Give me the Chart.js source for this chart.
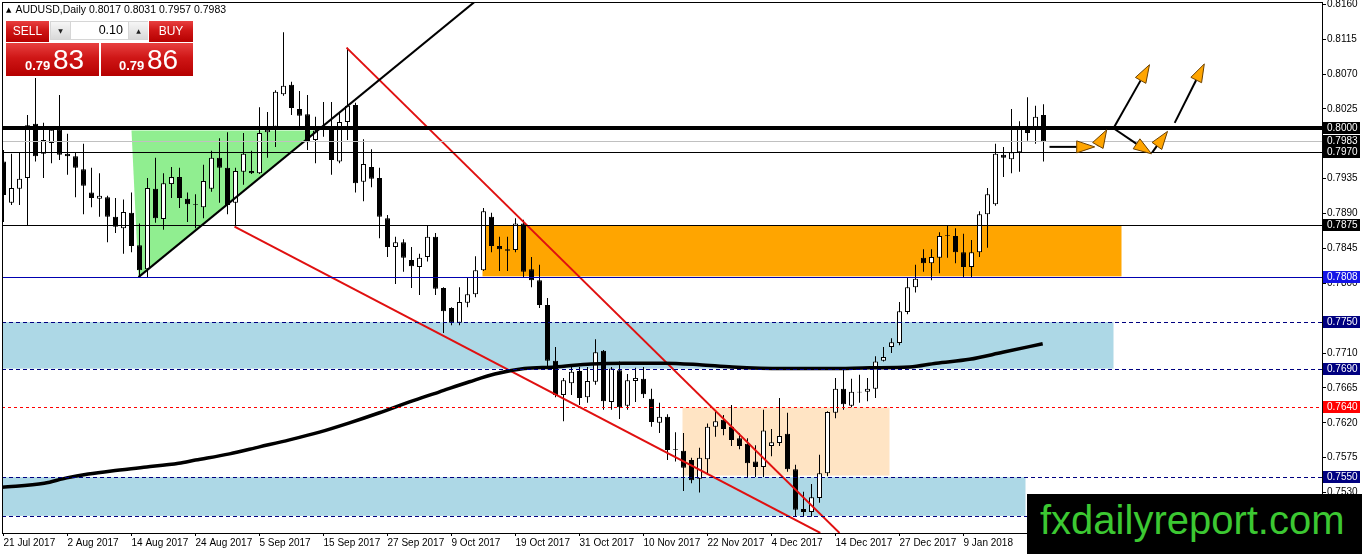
<!DOCTYPE html>
<html>
<head>
<meta charset="utf-8">
<title>AUDUSD Daily</title>
<script src="https://cdn.jsdelivr.net/npm/chart.js@4.4.1/dist/chart.umd.min.js"></script>
<style>
html,body{margin:0;padding:0;background:#fff;overflow:hidden;}
#wrap{position:relative;width:1362px;height:554px;font-family:"Liberation Sans",Arial,sans-serif;}
#c{position:absolute;left:0;top:0;}
.abs{position:absolute;white-space:nowrap;}
#hdr{left:6px;top:3px;font-size:10.5px;line-height:13px;color:#000;}
#hdr .tri{font-family:"DejaVu Sans";font-size:7px;position:relative;top:-1px;margin-right:4px;}
.red{background:linear-gradient(#e84040 0%,#cf1616 45%,#b50000 100%);color:#fff;}
#sell,#buy{top:21px;height:21px;font-size:12px;line-height:21px;text-align:center;}
#sell{left:6px;width:43px;}
#buy{left:149px;width:44px;}
#lot{left:50px;top:21px;width:98px;height:19px;background:#d6d6d6;}
.btn{top:22px;width:19px;height:17px;background:linear-gradient(#f6f6f6,#d9d9d9);font-family:"DejaVu Sans";font-size:6px;line-height:17px;text-align:center;color:#222;}
#dn{left:51px;}
#up{left:129px;}
#field{left:71px;top:22px;width:57px;height:17px;background:#fff;font-size:12.5px;line-height:17px;text-align:right;padding-right:5px;box-sizing:border-box;color:#000;}
#sp{left:6px;top:43px;width:93px;height:33px;}
#bp{left:101px;top:43px;width:92px;height:33px;}
.small{font-size:13px;line-height:13px;font-weight:bold;top:16px;}
.big{font-size:28px;line-height:28px;top:3px;}
#wm{left:1027px;top:494px;width:335px;height:60px;background:#000;}
#wm span{position:absolute;left:13px;top:6px;font-size:40px;line-height:40px;color:#3cc832;white-space:nowrap;}
</style>
</head>
<body>
<div id="wrap">
<canvas id="c" width="1362" height="554"></canvas>
<div id="hdr" class="abs"><span class="tri">▲</span><span id="hdrText"></span></div>
<div id="sell" class="abs red">SELL</div>
<div id="lot" class="abs"></div>
<div id="dn" class="abs btn">▼</div>
<div id="field" class="abs">0.10</div>
<div id="up" class="abs btn">▲</div>
<div id="buy" class="abs red">BUY</div>
<div id="sp" class="abs red"><span class="abs small" style="left:19px">0.79</span><span class="abs big" style="left:47px">83</span></div>
<div id="bp" class="abs red"><span class="abs small" style="left:18px">0.79</span><span class="abs big" style="left:46px">86</span></div>
<div id="wm" class="abs"><span>fxdailyreport.com</span></div>
</div>
<script>
// ---------------- data ----------------
const symbolName = "AUDUSD,Daily";

const opens = [0.7957,0.7904,0.7922,0.7936,0.8006,0.7967,0.7981,0.7998,0.7967,0.7964,
0.7947,0.7917,0.7909,0.7911,0.7886,0.7871,0.7891,0.7849,0.7818,0.7922,
0.7883,0.7928,0.7937,0.7909,0.7901,0.7898,0.7922,0.7962,0.7949,0.7904,
0.7944,0.7945,0.7942,0.7995,0.8002,0.8044,0.8056,0.8025,0.8018,0.7985,
0.7998,0.8002,0.7957,0.8008,0.8030,0.7931,0.7950,0.7936,0.7884,0.7847,
0.7853,0.7830,0.7821,0.7834,0.7860,0.7794,0.7768,0.7749,0.7775,0.7786,
0.7817,0.7886,0.7848,0.7844,0.7843,0.7877,0.7818,0.7804,0.7772,0.7700,
0.7656,0.7671,0.7687,0.7653,0.7673,0.7713,0.7647,0.7688,0.7642,0.7674,
0.7677,0.7651,0.7620,0.7628,0.7585,0.7584,0.7572,0.7548,0.7573,0.7615,
0.7624,0.7615,0.7600,0.7593,0.7570,0.7563,0.7590,0.7594,0.7606,0.7560,
0.7509,0.7505,0.7523,0.7555,0.7633,0.7664,0.7642,0.7659,0.7660,0.7664,
0.7700,0.7718,0.7723,0.7763,0.7795,0.7833,0.7826,0.7833,0.7861,0.7861,
0.7840,0.7821,0.7840,0.7889,0.7902,0.7966,0.7960,0.7969,0.7999,0.7999,
0.8017];
const highs = [0.7972,0.7967,0.7969,0.8017,0.8065,0.8007,0.8002,0.8043,0.7993,0.7968,
0.7980,0.7949,0.7942,0.7913,0.7910,0.7908,0.7917,0.7877,0.7936,0.7962,
0.7942,0.7950,0.7949,0.7917,0.7915,0.7953,0.7971,0.7987,0.7995,0.7949,
0.7994,0.7971,0.8027,0.8021,0.8049,0.8124,0.8060,0.8048,0.8043,0.8015,
0.8034,0.8034,0.8021,0.8104,0.8033,0.7986,0.7973,0.7949,0.7888,0.7860,
0.7857,0.7847,0.7838,0.7874,0.7865,0.7795,0.7769,0.7795,0.7808,0.7835,
0.7897,0.7891,0.7860,0.7860,0.7884,0.7882,0.7834,0.7824,0.7781,0.7718,
0.7678,0.7692,0.7692,0.7692,0.7728,0.7714,0.7692,0.7699,0.7683,0.7691,
0.7692,0.7664,0.7646,0.7631,0.7608,0.7607,0.7575,0.7588,0.7619,0.7634,
0.7630,0.7643,0.7607,0.7600,0.7591,0.7637,0.7612,0.7652,0.7633,0.7566,
0.7531,0.7541,0.7579,0.7635,0.7678,0.7692,0.7677,0.7682,0.7678,0.7706,
0.7718,0.7729,0.7776,0.7807,0.7824,0.7844,0.7844,0.7866,0.7874,0.7871,
0.7864,0.7856,0.7893,0.7923,0.7980,0.7976,0.8025,0.8009,0.8040,0.8029,
0.8031];
const lows = [0.7879,0.7901,0.7901,0.7875,0.7957,0.7936,0.7955,0.7959,0.7940,0.7911,
0.7889,0.7898,0.7886,0.7853,0.7865,0.7838,0.7840,0.7808,0.7807,0.7878,
0.7869,0.7910,0.7897,0.7879,0.7871,0.7884,0.7918,0.7904,0.7889,0.7873,
0.7927,0.7941,0.7941,0.7962,0.7976,0.8042,0.8017,0.8000,0.7972,0.7955,
0.7989,0.7940,0.7955,0.7985,0.7917,0.7906,0.7924,0.7858,0.7834,0.7799,
0.7815,0.7794,0.7785,0.7828,0.7785,0.7736,0.7746,0.7746,0.7769,0.7782,
0.7816,0.7840,0.7816,0.7816,0.7840,0.7807,0.7795,0.7768,0.7689,0.7653,
0.7622,0.7656,0.7643,0.7646,0.7669,0.7637,0.7637,0.7625,0.7637,0.7647,
0.7652,0.7615,0.7607,0.7572,0.7570,0.7532,0.7542,0.7530,0.7553,0.7602,
0.7604,0.7590,0.7586,0.7549,0.7550,0.7550,0.7577,0.7590,0.7557,0.7499,
0.7499,0.7499,0.7517,0.7551,0.7626,0.7637,0.7640,0.7646,0.7648,0.7652,
0.7699,0.7710,0.7720,0.7760,0.7788,0.7815,0.7804,0.7813,0.7833,0.7826,
0.7807,0.7807,0.7834,0.7846,0.7900,0.7937,0.7942,0.7944,0.7984,0.7980,
0.7957];
const closes = [0.7914,0.7923,0.7935,0.8004,0.7964,0.7985,0.7998,0.7966,0.7964,0.7949,
0.7926,0.7910,0.7913,0.7886,0.7873,0.7892,0.7848,0.7817,0.7923,0.7884,
0.7929,0.7937,0.7910,0.7902,0.7902,0.7932,0.7962,0.7949,0.7901,0.7945,
0.7967,0.7942,0.7994,0.7998,0.8047,0.8055,0.8026,0.8016,0.7982,0.7997,
0.8000,0.7959,0.8008,0.8029,0.7929,0.7954,0.7935,0.7886,0.7847,0.7853,
0.7833,0.7822,0.7833,0.7860,0.7793,0.7764,0.7749,0.7776,0.7786,0.7817,
0.7893,0.7848,0.7844,0.7842,0.7877,0.7815,0.7804,0.7772,0.7700,0.7656,
0.7675,0.7686,0.7652,0.7674,0.7711,0.7648,0.7690,0.7640,0.7675,0.7678,
0.7657,0.7621,0.7628,0.7585,0.7586,0.7562,0.7546,0.7575,0.7615,0.7622,
0.7612,0.7598,0.7590,0.7568,0.7563,0.7610,0.7595,0.7603,0.7560,0.7508,
0.7505,0.7524,0.7555,0.7634,0.7664,0.7644,0.7660,0.7660,0.7664,0.7699,
0.7705,0.7724,0.7764,0.7795,0.7806,0.7826,0.7834,0.7861,0.7862,0.7840,
0.7821,0.7840,0.7889,0.7915,0.7967,0.7962,0.7969,0.7999,0.7994,0.8015,
0.7983];

// moving average (read at sample bars)
const maIndex  = [-0.25,5.1,7.9,10.6,13.5,17.9,21.9,24,28.25,32,35.75,39.5,43.25,47,50.75,54.5,58.25,61.4,65.1,68.9,73.5,77.6,82.6,87,91.1,97.4,103.25,108.25,113.25,116.6,120.75,124.9,129.9];
const maValues = [0.7537,0.7542,0.7549,0.7554,0.7558,0.7563,0.7568,0.7572,0.7580,0.7589,0.7598,0.7608,0.7620,0.7633,0.7647,0.7660,0.7673,0.7683,0.7690,0.7692,0.7696,0.7697,0.7697,0.7695,0.7692,0.7690,0.7690,0.7691,0.7692,0.7697,0.7702,0.7711,0.7722];

// axis ticks
const xTickIndex  = [0,8,16,24,32,40,48,56,64,72,80,88,96,104,112,120];
const xTickLabels = ["21 Jul 2017","2 Aug 2017","14 Aug 2017","24 Aug 2017","5 Sep 2017","15 Sep 2017","27 Sep 2017","9 Oct 2017","19 Oct 2017","31 Oct 2017","10 Nov 2017","22 Nov 2017","4 Dec 2017","14 Dec 2017","27 Dec 2017","9 Jan 2018"];
const yTickValues = [0.8160,0.8115,0.8070,0.8025,0.7935,0.7890,0.7845,0.7800,0.7710,0.7665,0.7620,0.7575,0.7530];
const xRange = [-0.1875, 164.8125];
const yRange = [0.74779, 0.81629];

// horizontal levels (price)
const levelValues = [0.8000,0.7983,0.7970,0.7875,0.7808,0.7750,0.7690,0.7640,0.7550,0.7500];

// zones (bar index range, price range)
const zoneStartIdx = [59.875,-0.25,-0.25,84.875];
const zoneEndIdx   = [139.75,138.75,127.75,110.75];
const zoneHigh     = [0.7875,0.7750,0.7550,0.7640];
const zoneLow      = [0.7809,0.7690,0.7500,0.7552];
const triangleIdx   = [16,16.875,39.25];
const trianglePrice = [0.7997,0.7808,0.7997];

// trend lines: [startIdx, startPrice, endIdx, endPrice]
const trendBlack    = [16.875,0.7808,58.875,0.8163];
const trendRedUpper = [42.875,0.8104,104.5,0.7478];
const trendRedLower = [28.875,0.7873,102.1,0.7478];

// arrows
const arrowFromIdx   = [130.75,136.75,138.75,138.75,143.6,146.4];
const arrowFromPrice = [0.7976,0.7977,0.8000,0.8000,0.7969,0.8007];
const arrowToIdx     = [136.4,137.9,143.25,143.5,145.5,150.1];
const arrowToPrice   = [0.7976,0.7998,0.8082,0.7967,0.7996,0.8083];

// ---------------- styles ----------------
const levelStyles = [
  {color:'#000000', width:4, dash:[]},
  {color:'#c0c0c0', width:1, dash:[]},
  {color:'#000000', width:1, dash:[]},
  {color:'#000000', width:1, dash:[]},
  {color:'#0000b0', width:1, dash:[]},
  {color:'#000080', width:1, dash:[4,3]},
  {color:'#000080', width:1, dash:[4,3]},
  {color:'#ff0000', width:1, dash:[3,3]},
  {color:'#000080', width:1, dash:[4,3]},
  {color:'#000080', width:1, dash:[4,3]}
];
const markerBg = ['#000000','#000000','#000000','#000000','#1414e6','#000080','#000080','#ff0000','#000080','#000080'];
const zoneColors = ['#FFA500','#ADD8E6','#ADD8E6','#FFE4C4'];

const last = opens.length - 1;
document.getElementById('hdrText').textContent =
  symbolName + '  ' + [opens[last],highs[last],lows[last],closes[last]].map(v=>v.toFixed(4)).join(' ');

Chart.defaults.font.family = '"Liberation Sans", Arial, sans-serif';
Chart.defaults.color = '#000';

const wickData = opens.map((o,i)=>({x:i, y:[lows[i], highs[i]]}));
const bodyData = opens.map((o,i)=>({x:i, y:[o, closes[i]]}));
const bodyFill = opens.map((o,i)=> closes[i] >= o ? '#ffffff' : '#000000');

function lineData(t){ return [{x:t[0], y:t[1]}, {x:t[2], y:t[3]}]; }

const overlay = {
  id:'overlay',
  beforeDatasetsDraw(chart){
    const {ctx, chartArea:a, scales:{x,y}} = chart;
    ctx.save();
    ctx.beginPath(); ctx.rect(a.left, a.top, a.right-a.left, a.bottom-a.top); ctx.clip();
    for (let k=0;k<zoneStartIdx.length;k++){
      const x0 = x.getPixelForValue(zoneStartIdx[k]), x1 = x.getPixelForValue(zoneEndIdx[k]);
      const y0 = y.getPixelForValue(zoneHigh[k]), y1 = y.getPixelForValue(zoneLow[k]);
      ctx.fillStyle = zoneColors[k];
      ctx.fillRect(x0, y0, x1-x0, y1-y0);
    }
    ctx.beginPath();
    triangleIdx.forEach((v,k)=>{
      const px = x.getPixelForValue(v), py = y.getPixelForValue(trianglePrice[k]);
      if (k===0) ctx.moveTo(px,py); else ctx.lineTo(px,py);
    });
    ctx.closePath();
    ctx.fillStyle = '#90EE90';
    ctx.fill();
    ctx.restore();
  },
  afterDatasetsDraw(chart){
    const {ctx, chartArea:a, scales:{x,y}} = chart;
    ctx.save();
    ctx.beginPath(); ctx.rect(a.left, a.top, a.right-a.left, a.bottom-a.top); ctx.clip();
    levelValues.forEach((v,k)=>{
      const st = levelStyles[k];
      let py = y.getPixelForValue(v);
      if (st.width % 2 === 1) py = Math.round(py) + 0.5; else py = Math.round(py);
      ctx.beginPath();
      ctx.setLineDash(st.dash);
      ctx.strokeStyle = st.color; ctx.lineWidth = st.width;
      ctx.moveTo(a.left, py); ctx.lineTo(a.right, py); ctx.stroke();
    });
    ctx.setLineDash([]);
    // arrows
    for (let k=0;k<arrowFromIdx.length;k++){
      const x1 = x.getPixelForValue(arrowFromIdx[k]), y1 = y.getPixelForValue(arrowFromPrice[k]);
      const x2 = x.getPixelForValue(arrowToIdx[k]), y2 = y.getPixelForValue(arrowToPrice[k]);
      const ang = Math.atan2(y2-y1, x2-x1);
      const L = 18, W = 6;
      const bx = x2 - L*Math.cos(ang), by = y2 - L*Math.sin(ang);
      ctx.beginPath(); ctx.strokeStyle = '#000'; ctx.lineWidth = 2;
      ctx.moveTo(x1,y1); ctx.lineTo(bx,by); ctx.stroke();
      ctx.beginPath();
      ctx.moveTo(x2,y2);
      ctx.lineTo(bx + W*Math.sin(ang), by - W*Math.cos(ang));
      ctx.lineTo(bx - W*Math.sin(ang), by + W*Math.cos(ang));
      ctx.closePath();
      ctx.fillStyle = '#FFA500'; ctx.fill();
      ctx.strokeStyle = '#6b4000'; ctx.lineWidth = 1; ctx.stroke();
    }
    ctx.restore();
  },
  afterDraw(chart){
    const {ctx, chartArea:a, scales:{y}} = chart;
    ctx.save();
    ctx.strokeStyle = '#000'; ctx.lineWidth = 1;
    ctx.strokeRect(a.left+0.5, a.top+0.5, a.right-a.left, a.bottom-a.top);
    ctx.font = '10px "Liberation Sans", Arial, sans-serif';
    const ys = levelValues.map(v=>Math.round(y.getPixelForValue(v)));
    levelValues.forEach((v,k)=>{
      ctx.fillStyle = markerBg[k];
      ctx.fillRect(a.right+1, ys[k]-6, 37, 12);
    });
    ctx.fillStyle = '#fff'; ctx.textBaseline = 'middle'; ctx.textAlign = 'left';
    levelValues.forEach((v,k)=>{ ctx.fillText(v.toFixed(4), a.right+5, ys[k]+0.5); });
    ctx.restore();
  }
};

new Chart(document.getElementById('c'), {
  type:'bar',
  data:{
    datasets:[
      {type:'line', data: maIndex.map((v,k)=>({x:v, y:maValues[k]})), borderColor:'#000', borderWidth:3.5,
       pointRadius:0, tension:0.4, cubicInterpolationMode:'monotone', order:0},
      {type:'line', data: lineData(trendBlack), borderColor:'#000', borderWidth:2, pointRadius:0, order:0},
      {type:'line', data: lineData(trendRedUpper), borderColor:'#e01010', borderWidth:2, pointRadius:0, order:0},
      {type:'line', data: lineData(trendRedLower), borderColor:'#e01010', borderWidth:2, pointRadius:0, order:0},
      {label:'body', data: bodyData, backgroundColor: bodyFill, borderColor:'#000', borderWidth:1,
       borderSkipped:false, barThickness:5, grouped:false, inflateAmount:0, order:1},
      {label:'wick', data: wickData, backgroundColor:'#000', borderWidth:0, barThickness:1,
       grouped:false, inflateAmount:0, order:2}
    ]
  },
  options:{
    responsive:false,
    animation:false,
    events:[],
    layout:{padding:{left:2, top:2, right:0, bottom:0}},
    plugins:{legend:{display:false}, tooltip:{enabled:false}, title:{display:false}},
    scales:{
      x:{
        type:'linear', min:xRange[0], max:xRange[1], offset:false,
        border:{display:false},
        grid:{display:true, drawOnChartArea:false, drawTicks:true, tickLength:3, color:'#000', offset:false},
        ticks:{autoSkip:false, maxRotation:0, minRotation:0, align:'start', padding:1,
               font:{size:10}, color:'#000',
               callback:(v,i)=> xTickLabels[i] ?? ''},
        afterBuildTicks:(s)=>{ s.ticks = xTickIndex.map(v=>({value:v})); },
        afterFit:(s)=>{ s.height = 21; s.paddingLeft = 0; s.paddingRight = 0; }
      },
      y:{
        type:'linear', position:'right', min:yRange[0], max:yRange[1],
        border:{display:false},
        grid:{display:true, drawOnChartArea:false, drawTicks:true, tickLength:4, color:'#000'},
        ticks:{autoSkip:false, padding:1, font:{size:10}, color:'#000',
               callback:(v)=> Number(v).toFixed(4)},
        afterBuildTicks:(s)=>{ s.ticks = yTickValues.map(v=>({value:v})); },
        afterFit:(s)=>{ s.width = 40; s.paddingTop = 0; s.paddingBottom = 0; }
      }
    }
  },
  plugins:[overlay]
});
</script>
</body>
</html>
